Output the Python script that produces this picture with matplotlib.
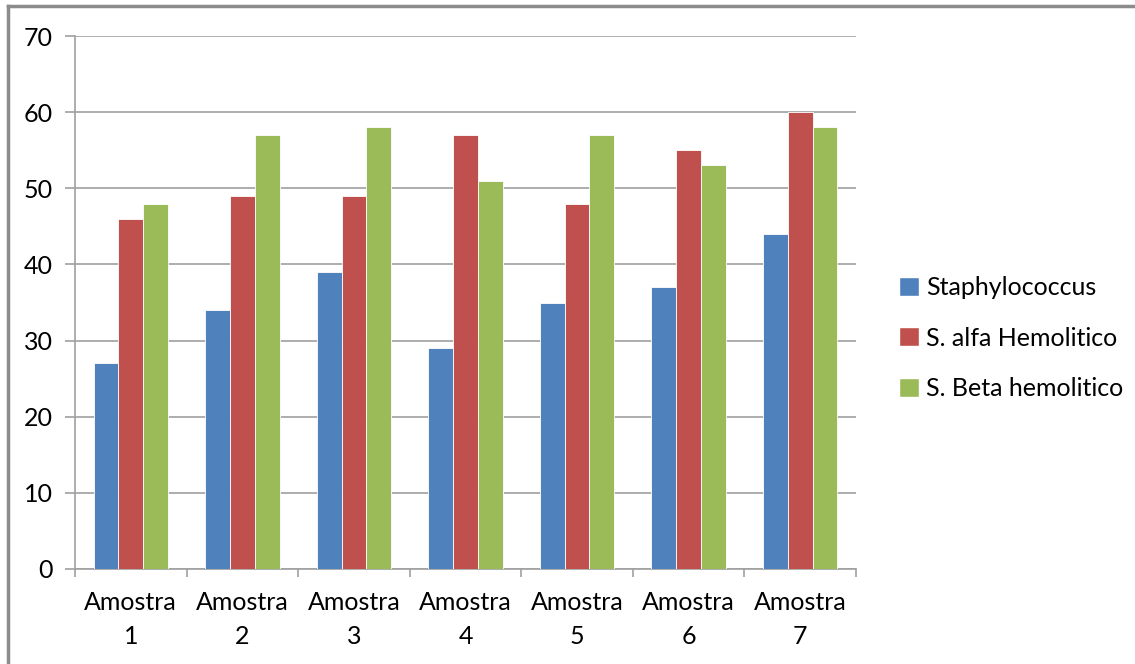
import numpy as np
import matplotlib.pyplot as plt
from matplotlib.lines import Line2D
from matplotlib.patches import Patch

plt.rcParams["font.family"] = ["Lato", "DejaVu Sans"]

categories = ["Amostra\n1", "Amostra\n2", "Amostra\n3", "Amostra\n4",
              "Amostra\n5", "Amostra\n6", "Amostra\n7"]
series_names = ["Staphylococcus", "S. alfa Hemolitico", "S. Beta hemolitico"]
staphylococcus = [27, 34, 39, 29, 35, 37, 44]
s_alfa = [46, 49, 49, 57, 48, 55, 60]
s_beta = [48, 57, 58, 51, 57, 53, 58]
colors = ["#4f81bd", "#c0504d", "#9bbb59"]

fig = plt.figure(figsize=(11.35, 6.64), dpi=100)
ax = fig.add_axes([75 / 1135, 1 - 569 / 664, (856 - 75) / 1135, (569 - 36) / 664])

x = np.arange(len(categories))
w = 1 / 4.5
for i, (vals, c) in enumerate(zip([staphylococcus, s_alfa, s_beta], colors)):
    ax.bar(x + (i - 1) * w, vals, width=w, color=c, edgecolor="white",
           linewidth=0.6, zorder=3)

grid_c = "#a0a0a0"
ax.set_xlim(-0.5, len(categories) - 0.5)
ax.set_ylim(0, 70)
ax.set_yticks(range(0, 71, 10))
ax.yaxis.grid(True, color=grid_c, linewidth=1.2, zorder=0)
ax.set_xticks(x)
ax.set_xticklabels(categories, fontsize=18, linespacing=1.55)
ax.set_xticks(np.arange(-0.5, len(categories)), minor=True)
ax.tick_params(axis="x", which="major", length=0, pad=16)
ax.tick_params(axis="x", which="minor", length=6, color=grid_c, width=1.2)
ax.tick_params(axis="y", length=7, color=grid_c, width=1.2, labelsize=18, pad=9)
for s in ["top", "right"]:
    ax.spines[s].set_visible(False)
for s in ["left", "bottom"]:
    ax.spines[s].set_color(grid_c)
    ax.spines[s].set_linewidth(1.2)

handles = [Patch(facecolor=c, edgecolor="white") for c in colors]
fig.legend(handles, series_names, loc="center left",
           bbox_to_anchor=(891 / 1135, 1 - 338 / 664), frameon=False,
           fontsize=18, handlelength=0.8, handleheight=0.8,
           handletextpad=0.3, labelspacing=1.1, borderaxespad=0,
           borderpad=0.3)

# outer chart border (top and left visible)
fig.add_artist(Line2D([7.5 / 1135, 1], [1 - 5.5 / 664] * 2, color="#8c8c8c",
                      linewidth=2.5, transform=fig.transFigure))
fig.add_artist(Line2D([7.5 / 1135] * 2, [0, 1 - 5.5 / 664], color="#8c8c8c",
                      linewidth=2.5, transform=fig.transFigure))

fig.savefig("out.png", dpi=100)
